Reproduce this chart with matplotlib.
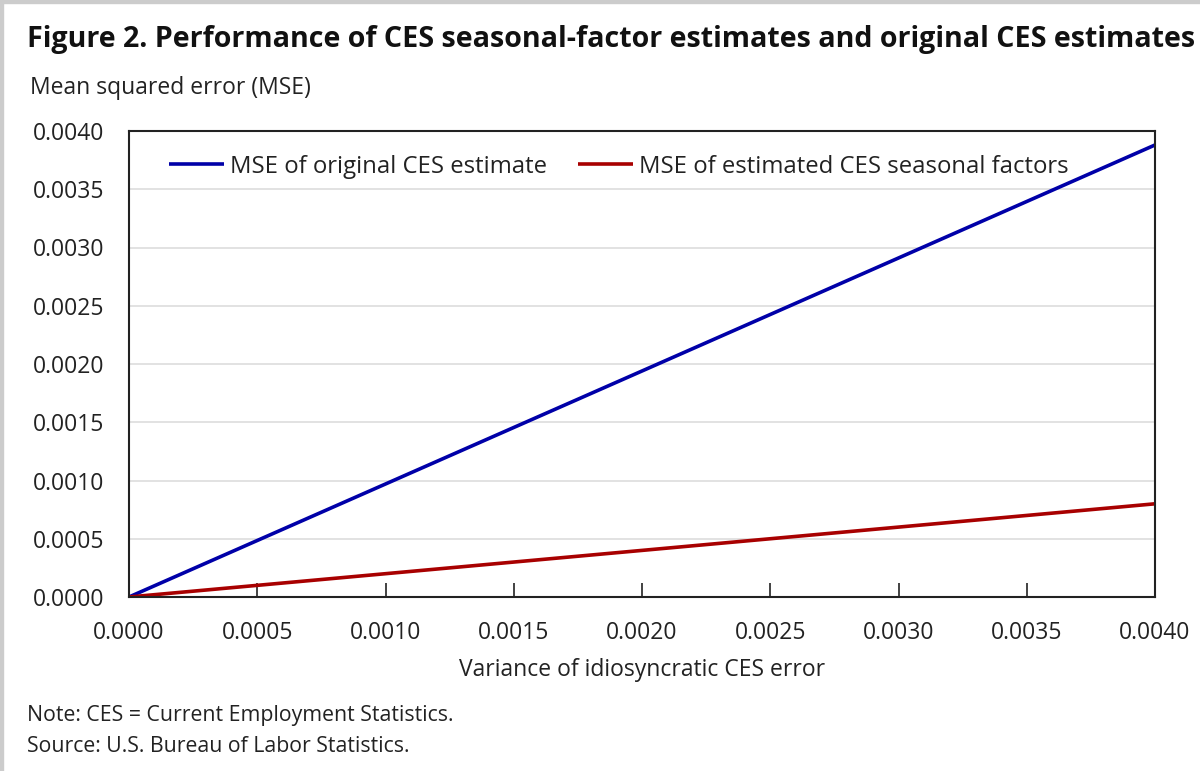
import matplotlib.pyplot as plt
from matplotlib.ticker import FormatStrFormatter
from matplotlib.patches import Rectangle

# variance of idiosyncratic CES error
variance = [0.0, 0.004]
# MSE values
mse_original = [0.0, 0.00388]
mse_seasonal = [0.0, 0.00080]

x_ticks = [0.0, 0.0005, 0.0010, 0.0015, 0.0020, 0.0025, 0.0030, 0.0035, 0.0040]
y_ticks = [0.0, 0.0005, 0.0010, 0.0015, 0.0020, 0.0025, 0.0030, 0.0035, 0.0040]

plt.rcParams['font.family'] = ['Open Sans', 'DejaVu Sans']

fig = plt.figure(figsize=(12, 7.71), dpi=100)
W, H = 1200, 771
ax = fig.add_axes([129 / W, 1 - 597 / H, (1155 - 129) / W, (597 - 131) / H])

ax.plot(variance, mse_original, color='#0000a8', lw=2.6, label='MSE of original CES estimate',
        solid_capstyle='butt')
ax.plot(variance, mse_seasonal, color='#a80000', lw=2.6, label='MSE of estimated CES seasonal factors',
        solid_capstyle='butt')

ax.set_xlim(0, 0.004)
ax.set_ylim(0, 0.004)
ax.set_xticks(x_ticks)
ax.set_yticks(y_ticks)
ax.xaxis.set_major_formatter(FormatStrFormatter('%.4f'))
ax.yaxis.set_major_formatter(FormatStrFormatter('%.4f'))
ax.tick_params(axis='x', direction='in', length=10, width=1.2, pad=17, labelsize=16.5, colors='#222222')
ax.tick_params(axis='y', length=0, pad=18, labelsize=16.5, colors='#222222')
ax.grid(axis='y', color='#dddddd', lw=1.2)
ax.set_axisbelow(True)
for s in ax.spines.values():
    s.set_color('#222222')
    s.set_linewidth(1.5)

ax.set_xlabel('Variance of idiosyncratic CES error', fontsize=16.5, color='#222222', labelpad=10)

leg = ax.legend(loc='upper left', ncol=2, frameon=False, fontsize=17.2, handlelength=2.3,
                handletextpad=0.25, columnspacing=1.3, bbox_to_anchor=(0.018, 0.995))
for t in leg.get_texts():
    t.set_color('#222222')

fig.text(27 / W, 1 - 40 / H, 'Figure 2. Performance of CES seasonal-factor estimates and original CES estimates',
         fontsize=20.6, fontweight='bold', color='#111111', va='center', ha='left')
fig.text(30 / W, 1 - 88 / H, 'Mean squared error (MSE)', fontsize=16.5, color='#222222', va='center')
fig.text(27 / W, 1 - 716 / H, 'Note: CES = Current Employment Statistics.', fontsize=15.3, color='#222222', va='center')
fig.text(27 / W, 1 - 746 / H, 'Source: U.S. Bureau of Labor Statistics.', fontsize=15.3, color='#222222', va='center')

# light frame at top and left
fig.add_artist(Rectangle((0, 0), 3 / W, 1, transform=fig.transFigure, color='#cccccc'))
fig.add_artist(Rectangle((0, 1 - 3 / H), 1, 3 / H, transform=fig.transFigure, color='#cccccc'))

fig.savefig('out.png', dpi=100)
